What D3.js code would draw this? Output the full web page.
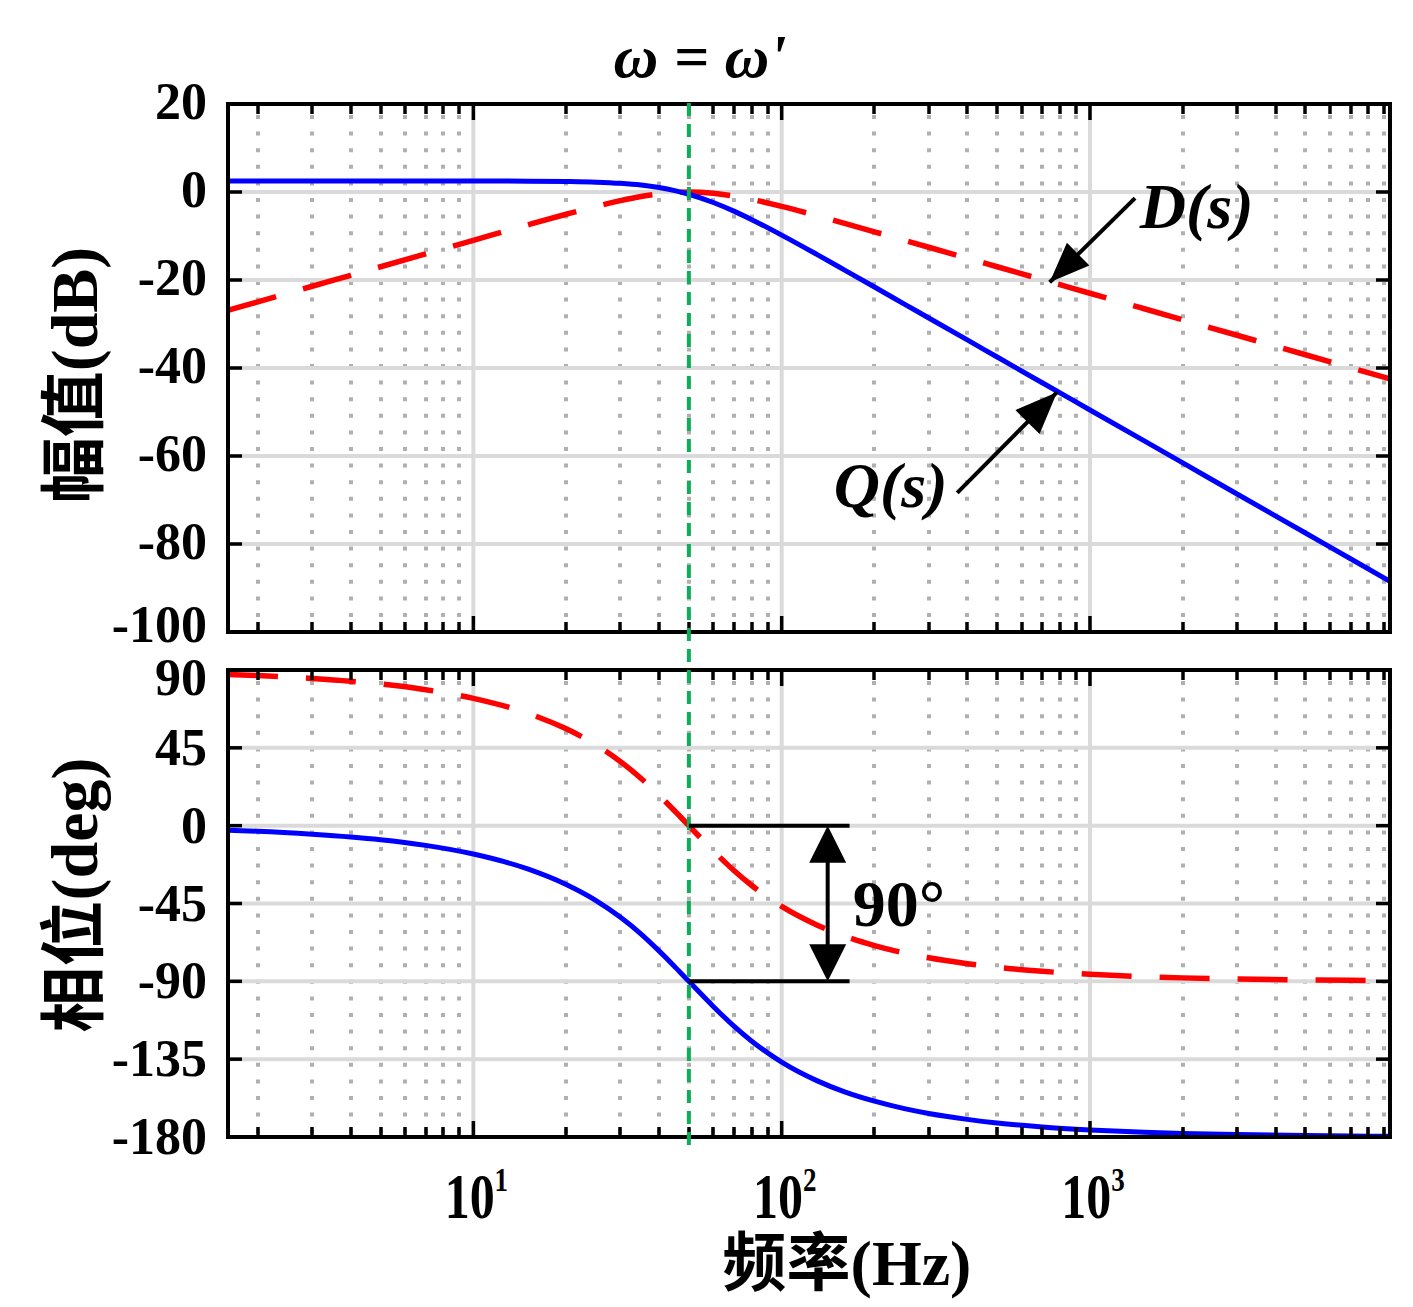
<!DOCTYPE html>
<html>
<head>
<meta charset="utf-8">
<script src="https://cdn.jsdelivr.net/npm/d3@7"></script>
<style>
  body { margin: 0; background: #fff; }
  text { font-family: "Liberation Serif", "Times New Roman", "Noto Sans CJK SC", serif; font-weight: bold; fill: #000; }
</style>
</head>
<body>
<svg id="chart" width="1413" height="1307"></svg>
<script>
const freq = [1.6, 2, 3, 4, 5, 7, 10, 15, 20, 25, 30, 35, 40, 45, 50, 60, 70, 80, 100, 130, 160, 200, 250, 300, 400, 500, 700, 1000, 1500, 2000, 3000, 5000, 7000, 9400];
// magnitude (dB)
const qMag = [2.5, 2.5, 2.5, 2.5, 2.5, 2.5, 2.49, 2.47, 2.39, 2.24, 1.97, 1.57, 1.01, 0.31, -0.51, -2.38, -4.35, -6.28, -9.8, -14.19, -17.75, -21.6, -25.47, -28.63, -33.62, -37.5, -43.35, -49.54, -56.58, -61.58, -68.63, -77.5, -83.35, -88.47];
const dMag = [-26.89, -24.95, -21.42, -18.93, -16.99, -14.07, -10.98, -7.48, -5.06, -3.27, -1.96, -1.02, -0.42, -0.1, 0, -0.28, -0.92, -1.69, -3.27, -5.38, -7.14, -9.05, -10.98, -12.56, -15.05, -16.99, -19.92, -23.01, -26.53, -29.03, -32.56, -36.99, -39.92, -42.48];
// phase (deg)
const qPhase = [-2.6, -3.2, -4.9, -6.5, -8.1, -11.4, -16.4, -25.0, -34.0, -43.3, -53.0, -62.7, -72.4, -81.5, -90, -104.5, -115.9, -124.6, -136.7, -147.4, -153.9, -159.3, -163.6, -166.4, -169.8, -171.9, -174.2, -175.9, -177.3, -178.0, -178.6, -179.2, -179.4, -179.6];
const dPhase = [87.4, 86.8, 85.1, 83.5, 81.9, 78.6, 73.6, 65.0, 56.0, 46.7, 37.0, 27.3, 17.6, 8.5, 0, -14.5, -25.9, -34.6, -46.7, -57.4, -63.9, -69.3, -73.6, -76.4, -79.8, -81.9, -84.2, -85.9, -87.3, -88.0, -88.6, -89.2, -89.4, -89.6];

const magTicks = [20, 0, -20, -40, -60, -80, -100];
const phaseTicks = [90, 45, 0, -45, -90, -135, -180];
const decades = [10, 100, 1000];
const decadeExp = ["1", "2", "3"];
const wPrime = 50; // ω'

const svg = d3.select("#chart");
const left = 228, right = 1390;
const magTop = 104, magBottom = 632, phTop = 670, phBottom = 1137;

const x = d3.scaleLog().domain([1.6, 9400]).range([left, right]);
const yMag = d3.scaleLinear().domain([-100, 20]).range([magBottom, magTop]);
const yPh = d3.scaleLinear().domain([-180, 90]).range([phBottom, phTop]);
const px = v => Math.round(v);

// minor tick positions 2..9 per decade inside the domain
const minor = [];
[1, 10, 100, 1000].forEach(d => {
  for (let k = 2; k <= 9; k++) {
    const v = k * d;
    if (v > 1.6 && v < 9400) minor.push(v);
  }
});

function panel(y, ticks, top, bottom, id, qVals, dVals, labelDy) {
  const g = svg.append("g");
  g.append("clipPath").attr("id", id).append("rect")
    .attr("x", left).attr("y", top).attr("width", right - left).attr("height", bottom - top);

  // grid
  g.selectAll("line.minor").data(minor).join("line")
    .attr("x1", d => px(x(d))).attr("x2", d => px(x(d)))
    .attr("y1", top + 11).attr("y2", bottom)
    .attr("stroke", "#b0b0b0").attr("stroke-width", 4).attr("stroke-dasharray", "4,12.6");
  g.selectAll("line.vmaj").data(decades).join("line")
    .attr("x1", d => x(d)).attr("x2", d => x(d))
    .attr("y1", top).attr("y2", bottom)
    .attr("stroke", "#dadada").attr("stroke-width", 4);
  g.selectAll("line.hmaj").data(ticks.slice(1, -1)).join("line")
    .attr("x1", left).attr("x2", right)
    .attr("y1", d => y(d)).attr("y2", d => y(d))
    .attr("stroke", "#dadada").attr("stroke-width", 4);

  // curves
  const line = vals => d3.line()
    .x((d, i) => x(freq[i]))
    .y(d => y(d))
    .curve(d3.curveMonotoneX)(vals);
  const cg = g.append("g").attr("clip-path", `url(#${id})`);
  cg.append("path").attr("d", line(dVals)).attr("fill", "none")
    .attr("stroke", "#ff0000").attr("stroke-width", 5.5).attr("stroke-dasharray", "50,28");
  cg.append("path").attr("d", line(qVals)).attr("fill", "none")
    .attr("stroke", "#0000ff").attr("stroke-width", 5);

  // ticks
  const tk = g.append("g").attr("stroke", "#000").attr("stroke-width", 3.5);
  decades.forEach(d => {
    tk.append("line").attr("x1", x(d)).attr("x2", x(d)).attr("y1", top).attr("y2", top + 16);
    tk.append("line").attr("x1", x(d)).attr("x2", x(d)).attr("y1", bottom).attr("y2", bottom - 16);
  });
  minor.forEach(d => {
    tk.append("line").attr("x1", px(x(d))).attr("x2", px(x(d))).attr("y1", top).attr("y2", top + 10);
    tk.append("line").attr("x1", px(x(d))).attr("x2", px(x(d))).attr("y1", bottom).attr("y2", bottom - 10);
  });
  ticks.forEach(t => {
    tk.append("line").attr("x1", left).attr("x2", left + 14).attr("y1", y(t)).attr("y2", y(t));
    tk.append("line").attr("x1", right).attr("x2", right - 14).attr("y1", y(t)).attr("y2", y(t));
  });

  g.append("rect").attr("x", left).attr("y", top).attr("width", right - left).attr("height", bottom - top)
    .attr("fill", "none").attr("stroke", "#000").attr("stroke-width", 4);

  g.selectAll("text.tl").data(ticks).join("text")
    .attr("x", left - 21).attr("y", (d, i) => y(d) + labelDy(i))
    .attr("text-anchor", "end").attr("font-size", 52)
    .text(d => d);
  return g;
}

panel(yMag, magTicks, magTop, magBottom, "clipMag", qMag, dMag, i => (i === magTicks.length - 1 ? 10 : 15));
panel(yPh, phaseTicks, phTop, phBottom, "clipPh", qPhase, dPhase, i => (i === 0 ? 25 : 17));

// x tick labels 10^n (taller glyphs, as in the reference)
decades.forEach((d, i) => {
  const t = svg.append("text")
    .attr("transform", `translate(${x(d) + 3},1218) scale(1,1.27)`)
    .attr("text-anchor", "middle").attr("font-size", 50);
  t.append("tspan").text("10");
  t.append("tspan").attr("font-size", 27).attr("dy", -21).text(decadeExp[i]);
});

// axis titles
svg.append("text").attr("x", 847).attr("y", 1285).attr("text-anchor", "middle")
  .attr("font-size", 64).text("频率(Hz)");
svg.append("text").attr("transform", "translate(97,375) rotate(-90)")
  .attr("text-anchor", "middle").attr("font-size", 66).text("幅值(dB)");
svg.append("text").attr("transform", "translate(97,895) rotate(-90)")
  .attr("text-anchor", "middle").attr("font-size", 66).text("相位(deg)");

// ω = ω' marker
svg.append("line").attr("x1", x(wPrime)).attr("x2", x(wPrime)).attr("y1", 103).attr("y2", 1147)
  .attr("stroke", "#0fac5a").attr("stroke-width", 4).attr("stroke-dasharray", "13,8");
svg.append("text").attr("x", 700).attr("y", 77).attr("text-anchor", "middle")
  .attr("font-size", 62).attr("font-style", "italic").text("ω = ω'");

// arrows
function arrow(x1, y1, x2, y2, len, wid) {
  svg.append("line").attr("x1", x1).attr("y1", y1).attr("x2", x2).attr("y2", y2)
    .attr("stroke", "#000").attr("stroke-width", 4);
  const a = Math.atan2(y2 - y1, x2 - x1);
  const bx = x2 - len * Math.cos(a), by = y2 - len * Math.sin(a);
  const ox = -Math.sin(a) * wid / 2, oy = Math.cos(a) * wid / 2;
  svg.append("polygon")
    .attr("points", `${x2},${y2} ${bx + ox},${by + oy} ${bx - ox},${by - oy}`)
    .attr("fill", "#000");
}

// D(s)
arrow(x(1400), yMag(-1.4), x(740), yMag(-20.5), 40, 32);
svg.append("text").attr("x", x(1450)).attr("y", yMag(-8.2)).attr("font-size", 64)
  .attr("font-style", "italic").text("D(s)");
// Q(s)
arrow(x(371), yMag(-68.4), x(782), yMag(-45.5), 42, 34);
svg.append("text").attr("x", x(345)).attr("y", yMag(-71.5)).attr("font-size", 64)
  .attr("text-anchor", "end").attr("font-style", "italic").text("Q(s)");

// 90° bracket
[0, -90].forEach(p => {
  svg.append("line").attr("x1", x(wPrime)).attr("x2", x(166)).attr("y1", yPh(p)).attr("y2", yPh(p))
    .attr("stroke", "#000").attr("stroke-width", 4);
});
svg.append("line").attr("x1", x(141)).attr("x2", x(141)).attr("y1", yPh(0) + 30).attr("y2", yPh(-90) - 30)
  .attr("stroke", "#000").attr("stroke-width", 4);
[[0, 37], [-90, -37]].forEach(([tip, off]) => {
  const cx = x(141), ty = yPh(tip);
  svg.append("polygon")
    .attr("points", `${cx},${ty} ${cx - 18.5},${ty + off} ${cx + 18.5},${ty + off}`)
    .attr("fill", "#000");
});
svg.append("text").attr("x", x(170)).attr("y", yPh(-58)).attr("font-size", 66).text("90°");
</script>
</body>
</html>
